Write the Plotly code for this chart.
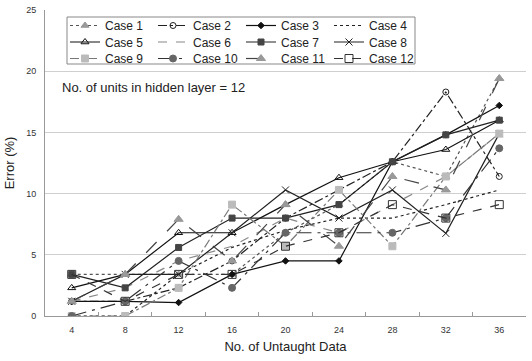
import plotly.graph_objects as go

# Number of untaught data points (x categories)
untaught = [4, 8, 12, 16, 20, 24, 28, 32, 36]

# Error (%) for each case
case1 = [3.4, 3.4, 3.4, 3.4, 6.8, 9.1, 12.6, 11.4, 19.4]
case2 = [1.2, 1.2, 2.3, 4.5, 8.0, 10.3, 12.6, 18.3, 11.4]
case3 = [1.2, 1.2, 1.1, 3.4, 4.5, 4.5, 12.6, 14.8, 17.2]
case4 = [0.0, 0.0, 3.4, 5.6, 7.0, 8.0, 8.0, 9.1, 10.3]
case5 = [2.3, 3.4, 6.8, 6.8, 9.1, 11.3, 12.6, 13.6, 16.0]
case6 = [1.2, 2.3, 4.5, 5.7, 8.0, 6.8, 9.1, 11.4, 14.9]
case7 = [3.4, 2.3, 5.6, 8.0, 8.0, 9.1, 12.6, 14.8, 16.0]
case8 = [1.2, 3.4, 3.4, 6.8, 10.3, 8.0, 10.3, 6.75, 14.9]
case9 = [0.0, 0.0, 2.3, 9.1, 5.7, 10.3, 5.7, 11.4, 14.9]
case10 = [0.0, 1.2, 4.5, 2.3, 6.8, 6.8, 6.8, 8.0, 13.7]
case11 = [1.2, 3.4, 7.9, 4.5, 9.1, 5.7, 11.4, 10.3, 19.4]
case12 = [3.4, 1.2, 3.4, 3.4, 5.7, 6.8, 9.1, 8.0, 9.1]

series = [
    ("Case 1", case1, "dot", "#555", "triangle-up", "#999", 7, "legend"),
    ("Case 2", case2, "dashdot", "#222", "circle-open", "#222", 6, "legend"),
    ("Case 3", case3, "solid", "#111", "diamond", "#111", 5, "legend"),
    ("Case 4", case4, "dot", "#222", None, "#222", 0, "legend"),
    ("Case 5", case5, "solid", "#111", "triangle-up-open", "#111", 7, "legend2"),
    ("Case 6", case6, "dash", "#888", None, "#888", 0, "legend2"),
    ("Case 7", case7, "solid", "#222", "square", "#444", 6, "legend2"),
    ("Case 8", case8, "solid", "#222", "x-thin-open", "#222", 7, "legend2"),
    ("Case 9", case9, "dashdot", "#777", "square", "#bbb", 7, "legend3"),
    ("Case 10", case10, "longdashdot", "#333", "circle", "#666", 7, "legend3"),
    ("Case 11", case11, "longdash", "#444", "triangle-up", "#999", 8, "legend3"),
    ("Case 12", case12, "dash", "#333", "square-open", "#333", 8, "legend3"),
]

xcat = [str(v) for v in untaught]

fig = go.Figure()
for name, vals, dash, lcol, sym, mcol, msize, leg in series:
    marker = dict(symbol=sym, color=mcol, size=msize,
                  line=dict(color=mcol, width=1)) if sym else None
    fig.add_trace(go.Scatter(
        x=xcat, y=vals, name=name,
        mode="lines+markers" if sym else "lines",
        line=dict(color=lcol, width=1.2, dash=dash),
        marker=marker,
        legend=leg,
    ))

W, H = 532, 361
ML, MR, MT, MB = 45, 6, 10, 45
pw = W - ML - MR
ph = H - MT - MB


def px_x(p):
    return (p - ML) / pw


def px_y(p):
    return (H - MB - p) / ph


leg_common = dict(
    orientation="h", xanchor="left", yanchor="middle",
    x=px_x(65), font=dict(family="Liberation Sans, Arial", size=12, color="#222"),
    bgcolor="rgba(0,0,0,0)", borderwidth=0, entrywidth=43, itemwidth=30,
    tracegroupgap=0,
)

fig.update_layout(
    width=W, height=H,
    margin=dict(l=ML, r=MR, t=MT, b=MB),
    paper_bgcolor="white", plot_bgcolor="white",
    font=dict(family="Liberation Sans, Arial", color="#222"),
    showlegend=True,
    legend=dict(leg_common, y=px_y(25.5)),
    legend2=dict(leg_common, y=px_y(42)),
    legend3=dict(leg_common, y=px_y(58.5)),
    xaxis=dict(
        type="category", range=[-0.5, 8.5],
        showgrid=False, showline=True, linecolor="#999", linewidth=1,
        ticks="inside", tickson="boundaries", ticklen=4, tickcolor="#999",
        tickfont=dict(size=9, color="#333"), ticklabelstandoff=5,
        title=dict(text="No. of Untaught Data", font=dict(size=13, color="#222"),
                   standoff=8),
    ),
    yaxis=dict(
        range=[0, 25], dtick=5, showgrid=True, gridcolor="#cfcfcf", gridwidth=1,
        showline=True, linecolor="#999", linewidth=1, zeroline=False,
        ticks="", tickfont=dict(size=9, color="#333"), ticklabelstandoff=6,
        title=dict(text="Error (%)", font=dict(size=13, color="#222"), standoff=8),
    ),
    shapes=[dict(
        type="rect", xref="paper", yref="paper",
        x0=px_x(67), x1=px_x(415), y0=px_y(64), y1=px_y(17),
        line=dict(color="#888", width=1), fillcolor="white", layer="below",
    )],
    annotations=[dict(
        text="No. of units in hidden layer = 12", xref="paper", yref="paper",
        x=px_x(60), y=px_y(87), xanchor="left", yanchor="middle",
        showarrow=False, font=dict(size=13, color="#222"),
    )],
)

fig.write_html("out.html")
